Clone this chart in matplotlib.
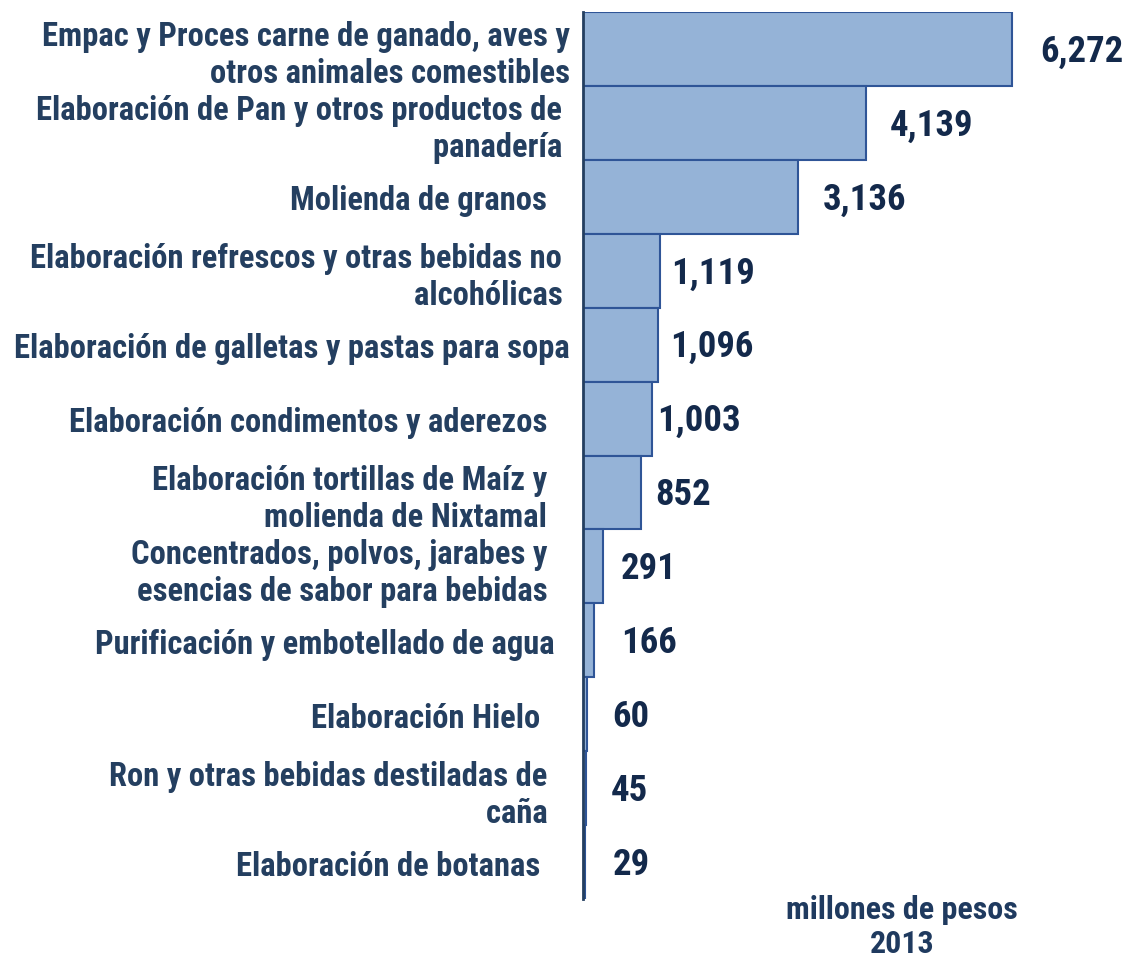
import matplotlib
matplotlib.use("Agg")
import matplotlib.pyplot as plt
from matplotlib import font_manager

categories = [
    "Empac y Proces carne de ganado, aves y\notros animales comestibles",
    "Elaboración de Pan y otros productos de \npanadería ",
    "Molienda de granos   ",
    "Elaboración refrescos y otras bebidas no \nalcohólicas ",
    "Elaboración de galletas y pastas para sopa",
    "Elaboración condimentos y aderezos   ",
    "Elaboración tortillas de Maíz y   \nmolienda de Nixtamal   ",
    "Concentrados, polvos, jarabes y   \nesencias de sabor para bebidas   ",
    "Purificación y embotellado de agua  ",
    "Elaboración Hielo    ",
    "Ron y otras bebidas destiladas de   \ncaña   ",
    "Elaboración de botanas    ",
]
values = [6272, 4139, 3136, 1119, 1096, 1003, 852, 291, 166, 60, 45, 29]
value_labels = ["6,272", "4,139", "3,136", "1,119", "1,096", "1,003", "852", "291", "166", "60", "45", "29"]
unit_label = "millones de pesos\n2013"

# style: label pixel offsets from bar end
label_offsets = [28, 24, 25, 12, 12, 6, 14, 18, 27, 25, 25, 28]

available = {f.name for f in font_manager.fontManager.ttflist}
family = "DejaVu Sans"
for cand in ["Liberation Sans Narrow", "Roboto Condensed", "Open Sans Condensed", "Roboto", "Liberation Sans"]:
    if cand in available:
        family = cand
        break
plt.rcParams["font.family"] = [family, "DejaVu Sans"]

W, H = 1125, 962
fig = plt.figure(figsize=(W / 100, H / 100), dpi=100)
ax_left = 583 / W
ax_right = 1.0
ax_top = 1 - 13 / H
ax_bottom = 1 - 900 / H
ax = fig.add_axes([ax_left, ax_bottom, ax_right - ax_left, ax_top - ax_bottom])

xmax = values[0] * (W - 583) / (1012 - 583)
y = list(range(len(values)))
ax.barh(y, values, height=1.0, color="#95B3D7", edgecolor="#2F5597", linewidth=1.5)
ax.set_xlim(0, xmax)
ax.set_ylim(len(values) - 0.5, -0.5)

ax.set_yticks(y)
ax.set_yticklabels(categories, fontsize=23.5, fontweight="bold", color="#243F60", linespacing=1.2)
ax.tick_params(axis="y", length=0, pad=9.5)
ax.set_xticks([])
for s in ["top", "right", "bottom"]:
    ax.spines[s].set_visible(False)
ax.spines["left"].set_color("#243F60")
ax.spines["left"].set_linewidth(2)

for yi, v, lab, off in zip(y, values, value_labels, label_offsets):
    ax.annotate(lab, xy=(v, yi), xytext=(off * 0.72, -1.2), textcoords="offset points",
                ha="left", va="center", fontsize=26.5, fontweight="bold", color="#13294B")

fig.text(902 / W, 1 - 927 / H, unit_label, ha="center", va="center", fontsize=23,
         fontweight="bold", color="#1F3A5F", linespacing=1.2)

fig.savefig("out.png", dpi=100)
